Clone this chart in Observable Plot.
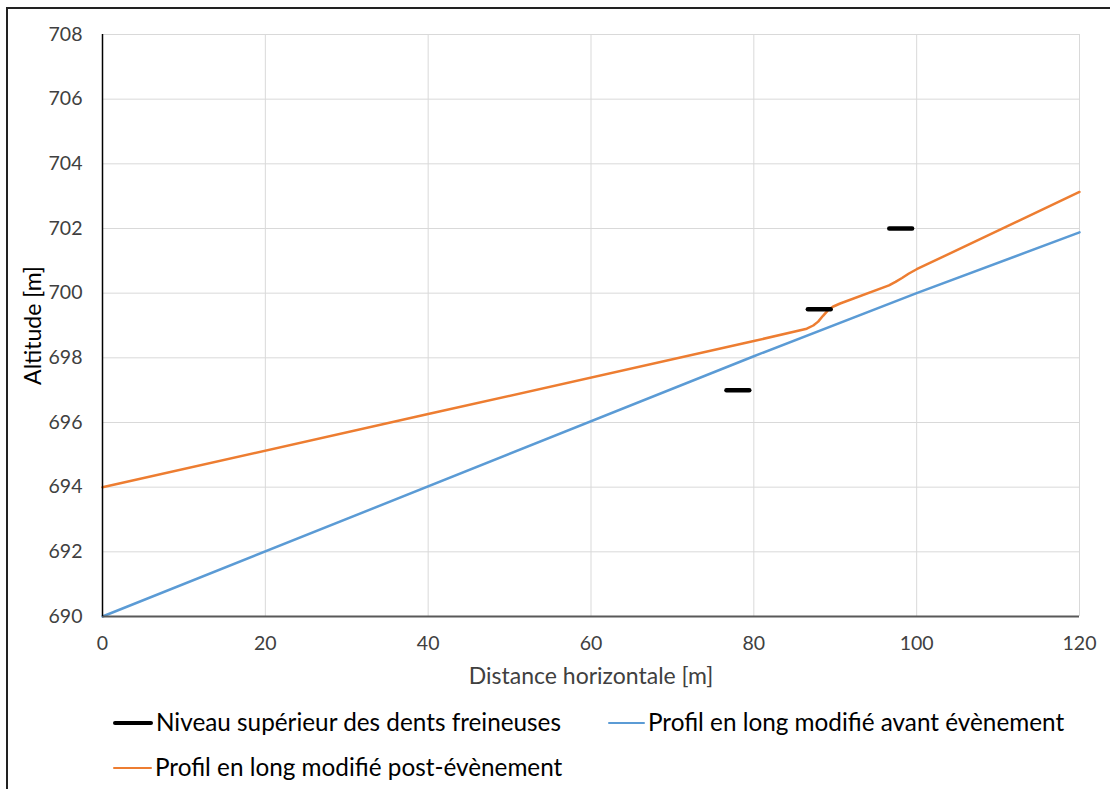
<!DOCTYPE html>
<html>
<head>
<meta charset="utf-8">
<script src="https://cdn.jsdelivr.net/npm/d3@7"></script>
<script src="https://cdn.jsdelivr.net/npm/@observablehq/plot@0.6"></script>
<style>
  html, body { margin: 0; padding: 0; background: #fff; width: 1110px; height: 789px; overflow: hidden; }
  #frame { position: absolute; left: 6px; top: 7px; width: 1200px; height: 900px; border-left: 2px solid #222; border-top: 2px solid #222; }
  #chart { position: absolute; left: 0; top: 0; }
  .leg { position: absolute; font-family: Lato, "Open Sans", sans-serif; font-size: 24.3px; color: #000; white-space: nowrap; line-height: 1; }
  .sw { position: absolute; height: 0; }
</style>
</head>
<body>
<div id="frame"></div>
<div id="chart"></div>
<div id="legend"></div>
<script>
// ---- data ----
const xTicks = [0, 20, 40, 60, 80, 100, 120];
const yTicks = [690, 692, 694, 696, 698, 700, 702, 704, 706, 708];

const beforeX = [0, 80, 100, 120];
const beforeY = [690, 698.05, 700, 701.88];

const afterX = [0, 40, 80, 86.5, 87.3, 87.9, 88.5, 89.1, 89.7, 90.6, 96.6, 97.4, 98.2, 99.0, 100, 120];
const afterY = [694, 696.26, 698.52, 698.9, 699.0, 699.12, 699.3, 699.47, 699.58, 699.68, 700.24, 700.35, 700.47, 700.6, 700.74, 703.13];

const teethX1 = [76.7, 86.7, 96.7];
const teethX2 = [79.5, 89.5, 99.5];
const teethY = [697, 699.5, 702];

const seriesNames = [
  "Niveau supérieur des dents freineuses",
  "Profil en long modifié avant évènement",
  "Profil en long modifié post-évènement"
];
const seriesColors = ["#000000", "#5B9BD5", "#ED7D31"];

// ---- tables ----
const before = beforeX.map((x, i) => ({x, y: beforeY[i]}));
const after = afterX.map((x, i) => ({x, y: afterY[i]}));
const teeth = teethY.map((y, i) => ({x1: teethX1[i], x2: teethX2[i], y}));

const font = "Lato, 'Open Sans', sans-serif";

const plot = Plot.plot({
  width: 1110,
  height: 700,
  marginLeft: 102,
  marginRight: 31,
  marginTop: 34,
  marginBottom: 84,
  style: { fontFamily: font, fontSize: "19px", color: "#404040", background: "transparent", overflow: "visible" },
  x: { domain: [0, 120], ticks: xTicks },
  y: { domain: [690, 708], ticks: yTicks },
  marks: [
    Plot.gridX(xTicks, { stroke: "#d9d9d9", strokeOpacity: 1, strokeWidth: 1 }),
    Plot.gridY(yTicks, { stroke: "#d9d9d9", strokeOpacity: 1, strokeWidth: 1 }),
    Plot.axisX(xTicks, { tickSize: 0, tickPadding: 20, label: null, fontSize: 19.5, fill: "#404040" }),
    Plot.axisY(yTicks, { tickSize: 0, tickPadding: 20, label: null, fontSize: 19.5, fill: "#404040" }),
    Plot.text(["Distance horizontale [m]"], { frameAnchor: "bottom", dy: 67, fontSize: 23, fill: "#404040" }),
    Plot.text(["Altitude [m]"], { frameAnchor: "left", textAnchor: "middle", dx: -69, rotate: -90, fontSize: 23, fill: "#000" }),
    Plot.line(before, { x: "x", y: "y", stroke: seriesColors[1], strokeWidth: 2.5 }),
    Plot.line(after, { x: "x", y: "y", stroke: seriesColors[2], strokeWidth: 2.5, strokeLinejoin: "round" }),
    Plot.ruleY(teeth, { y: "y", x1: "x1", x2: "x2", stroke: seriesColors[0], strokeWidth: 4.5, strokeLinecap: "round" }),
    Plot.ruleY([690], { stroke: "#595959", strokeWidth: 2 }),
    Plot.ruleX([0], { stroke: "#000", strokeWidth: 1.5 })
  ]
});
document.getElementById("chart").appendChild(plot);

// ---- legend ----
const legendItems = [
  { name: seriesNames[0], color: seriesColors[0], w: 4.5, sx: 113, tx: 156, y: 723 },
  { name: seriesNames[1], color: seriesColors[1], w: 2.5, sx: 608, tx: 648, y: 723 },
  { name: seriesNames[2], color: seriesColors[2], w: 2.5, sx: 113, tx: 155, y: 768 }
];
const leg = document.getElementById("legend");
legendItems.forEach(it => {
  const sw = document.createElement("div");
  sw.className = "sw";
  sw.style.left = it.sx + "px";
  sw.style.width = (it.tx - it.sx - 3) + "px";
  sw.style.top = (it.y - it.w / 2) + "px";
  sw.style.borderTop = it.w + "px solid " + it.color;
  sw.style.borderRadius = "2px";
  leg.appendChild(sw);
  const t = document.createElement("div");
  t.className = "leg";
  t.textContent = it.name;
  t.style.left = it.tx + "px";
  t.style.top = (it.y - 13) + "px";
  leg.appendChild(t);
});
</script>
</body>
</html>
